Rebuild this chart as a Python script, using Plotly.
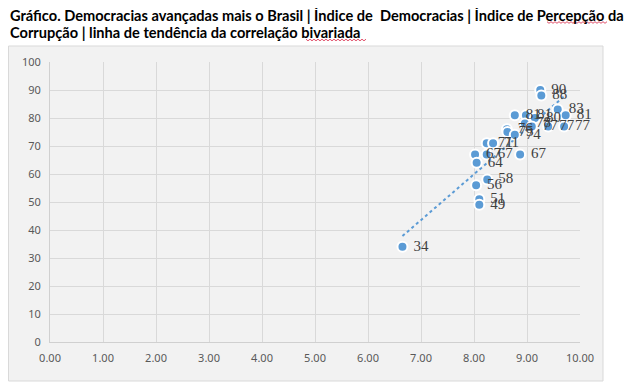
import numpy as np
import plotly.graph_objects as go

democracy_index = [9.25, 9.27, 9.58, 9.73, 8.77, 8.98, 9.15, 8.96, 9.09, 9.40, 9.70,
                   8.62, 8.63, 8.77, 8.24, 8.36, 8.02, 8.24, 8.87, 8.05, 8.25, 8.04,
                   8.10, 8.10, 6.65]
corruption_index = [90, 88, 83, 81, 81, 81, 80, 78, 77, 77, 77,
                    76, 75, 74, 71, 71, 67, 67, 67, 64, 58, 56,
                    51, 49, 34]
x_ticks = [0, 1, 2, 3, 4, 5, 6, 7, 8, 9, 10]
y_ticks = [0, 10, 20, 30, 40, 50, 60, 70, 80, 90, 100]

title_line1 = "Gráfico. Democracias avançadas mais o Brasil | Índice de  Democracias | Índice de Percepção da"
title_line2 = "Corrupção | linha de tendência da correlação bivariada"

xs = np.array(democracy_index)
ys = np.array(corruption_index)
slope, intercept = np.polyfit(xs, ys, 1)
tx = np.array([xs.min(), xs.max()])
ty = slope * tx + intercept

W, H = 632, 384
BLUE = "#5b9bd5"
fig = go.Figure()
fig.add_trace(go.Scatter(x=tx, y=ty, mode="lines",
                         line=dict(color=BLUE, width=2, dash="dot"),
                         hoverinfo="skip", showlegend=False))
fig.add_trace(go.Scatter(x=democracy_index, y=corruption_index, mode="markers+text",
                         text=["\u00a0" + str(v) for v in corruption_index],
                         textposition="middle right", cliponaxis=False,
                         textfont=dict(family="Liberation Serif", size=15, color="#404040"),
                         marker=dict(size=10, color=BLUE, line=dict(color="white", width=2)),
                         showlegend=False))

L, R, T, B = 42, 60, 54, 50
pw, ph = W - L - R, H - T - B

def px(x):
    return (x - L) / pw

def py(y):
    return (H - B - y) / ph

fig.add_shape(type="rect", xref="paper", yref="paper", layer="below",
              x0=px(0.5), x1=px(595), y0=py(373), y1=py(38),
              fillcolor="#f2f2f2", line=dict(color="#d9d9d9", width=1))

for i, line in enumerate([title_line1, title_line2]):
    fig.add_annotation(text=line, xref="paper", yref="paper",
                       x=px(0), y=py(7 + 18 * i), xanchor="left", yanchor="middle",
                       showarrow=False,
                       font=dict(family="Lato", size=14.6, color="#000000", weight="bold"))

# spell-check squiggles under two title words
def squiggle(x0, x1, y):
    pts = []
    k = 0
    xx = x0
    while xx <= x1:
        pts.append((px(xx), py(y + (0.8 if k % 2 else -0.8))))
        xx += 2
        k += 1
    return "M " + " L ".join(f"{a:.5f},{b:.5f}" for a, b in pts)

for (a, b, yy) in [(539, 599, 14.5), (298, 358, 32)]:
    fig.add_shape(type="path", xref="paper", yref="paper", path=squiggle(a, b, yy),
                  line=dict(color="#e0506a", width=1))

fig.update_layout(
    width=W, height=H,
    margin=dict(l=L, r=R, t=T, b=B),
    paper_bgcolor="white", plot_bgcolor="#f2f2f2",
    font=dict(family="Noto Sans", size=11, color="#595959"),
)
fig.update_xaxes(range=[0, 10], tickvals=x_ticks,
                 ticktext=[f"{v:.2f}" for v in x_ticks],
                 showgrid=True, gridcolor="#d9d9d9", gridwidth=1,
                 showline=True, linecolor="#d0d0d0", zeroline=False,
                 ticks="", ticklabelstandoff=6)
fig.update_yaxes(range=[0, 100], tickvals=y_ticks,
                 showgrid=True, gridcolor="#d9d9d9", gridwidth=1,
                 showline=True, linecolor="#d0d0d0", zeroline=False,
                 ticks="", ticklabelstandoff=6)

fig.write_html("out.html")
